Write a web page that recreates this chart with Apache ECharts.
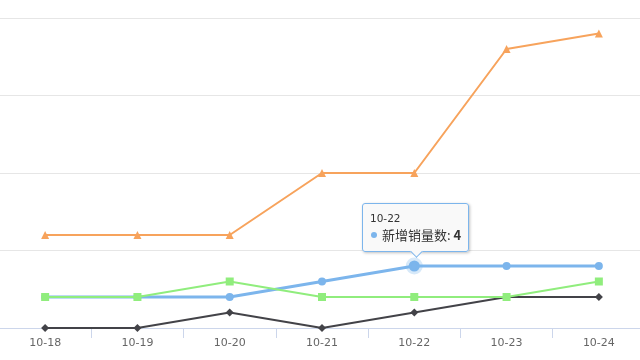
<!DOCTYPE html>
<html><head><meta charset="utf-8">
<script src="https://cdn.jsdelivr.net/npm/echarts@6/dist/echarts.min.js"></script>
<style>html,body{margin:0;padding:0;background:#fff;overflow:hidden}#c{width:640px;height:360px}</style>
</head><body><div id="c"></div>
<script>
var categories = ['10-18','10-19','10-20','10-21','10-22','10-23','10-24'];
var seriesNames = ['新增销量数','新增退货数','新增订单数','累计销量数'];
var salesNew = [2,2,2,3,4,4,4];
var returnsNew = [0,0,1,0,1,2,2];
var ordersNew = [2,2,3,2,2,2,3];
var salesTotal = [6,6,6,10,10,18,19];
var yMin = 0, yMax = 20, yInterval = 5;
var highlightIndex = 4;

var chart = echarts.init(document.getElementById('c'));
var colors = ['#7cb5ec','#434348','#90ed7d','#f7a35c'];
function mk(name, data, color, symbol, size, width, z) {
  return {
    name: name, type: 'line', data: data, symbol: symbol, symbolSize: size,
    showAllSymbol: true, z: z,
    lineStyle: {color: color, width: width},
    itemStyle: {color: color},
    emphasis: {disabled: true}
  };
}
var blueData = salesNew.map(function(v, i){
  if (i === highlightIndex) return {value: v, symbolSize: 11, itemStyle: {color: colors[0], borderColor: 'rgba(124,181,236,0.3)', borderWidth: 6}};
  return v;
});
var arrow = '<div style="position:absolute;left:50%;bottom:-5px;margin-left:-4px;width:8px;height:8px;background:rgb(249,249,249);border-right:1px solid #7cb5ec;border-bottom:1px solid #7cb5ec;transform:rotate(45deg)"></div>';
chart.setOption({
  animation: false,
  grid: {left: -1, top: 18, width: 646, bottom: 32, containLabel: false, outerBoundsMode: 'none'},
  tooltip: {
    trigger: 'item', triggerOn: 'none', alwaysShowContent: true,
    position: function(point, params, dom, rect, size) {
      var w = size.contentSize[0], h = size.contentSize[1];
      return [point[0] - w / 2 + 1, point[1] - h - 14];
    },
    backgroundColor: 'rgba(249,249,249,0.95)', borderColor: '#7cb5ec', borderWidth: 1,
    padding: [7, 7, 8, 7], extraCssText: 'border-radius:3px;box-shadow:1px 1px 3px rgba(0,0,0,0.25);',
    textStyle: {color: '#333', fontSize: 13, fontFamily: '"Noto Sans CJK SC", "DejaVu Sans", sans-serif'},
    formatter: function(p) {
      return '<div style="font-size:10.5px;line-height:15px;font-family:\'DejaVu Sans\',sans-serif">' + categories[p.dataIndex] + '</div>' +
        '<div style="line-height:17px;font-size:13px"><span style="display:inline-block;width:6px;height:6px;border-radius:3px;background:' + p.color + ';vertical-align:middle;margin:0 5px 2px 1px"></span>' + p.seriesName + ': <b>' + p.value + '</b></div>' + arrow;
    }
  },
  xAxis: {
    type: 'category', data: categories, boundaryGap: true,
    axisLine: {lineStyle: {color: '#ccd6eb'}},
    axisTick: {show: true, length: 10, lineStyle: {color: '#ccd6eb'}},
    axisLabel: {color: '#666', fontSize: 11, margin: 10, fontFamily: '"DejaVu Sans", sans-serif'}
  },
  yAxis: {
    type: 'value', min: yMin, max: yMax, interval: yInterval,
    axisLabel: {show: false}, axisLine: {show: false}, axisTick: {show: false},
    splitLine: {lineStyle: {color: '#e6e6e6'}}
  },
  series: [
    mk(seriesNames[0], blueData, colors[0], 'circle', 8, 3, 2),
    mk(seriesNames[1], returnsNew, colors[1], 'diamond', 8, 2, 3),
    mk(seriesNames[2], ordersNew, colors[2], 'rect', 8, 2, 4),
    mk(seriesNames[3], salesTotal, colors[3], 'triangle', 8, 2, 5)
  ]
});
chart.dispatchAction({type: 'showTip', seriesIndex: 0, dataIndex: highlightIndex});
</script></body></html>
